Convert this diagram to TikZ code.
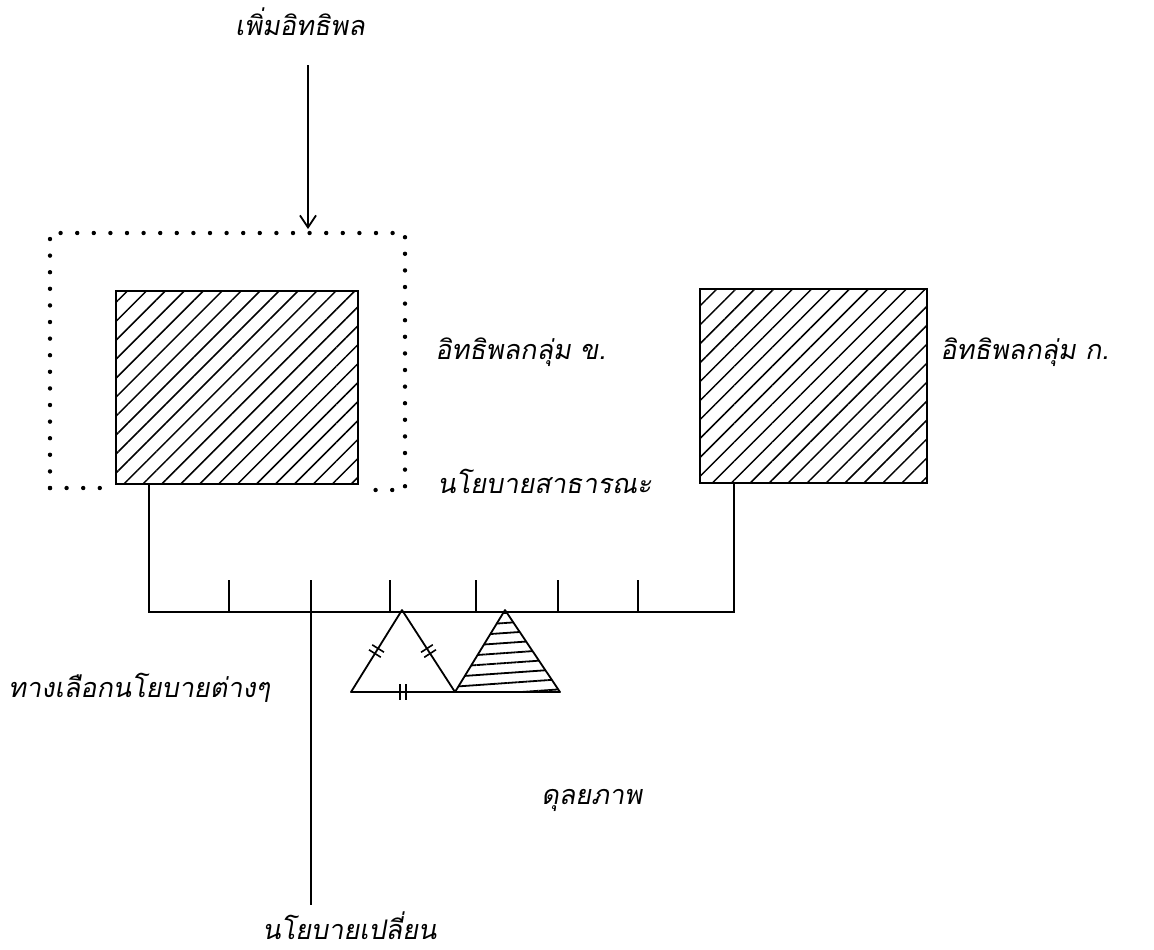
\documentclass[tikz,border=0pt]{standalone}
\usepackage{fontspec}
\usetikzlibrary{patterns.meta,arrows.meta}
\newfontfamily\thaifont[Script=Thai,FakeSlant=0.18]{Loma}
\begin{document}
\begin{tikzpicture}[x=0.5pt,y=-0.5pt,
  lbl/.style={font=\thaifont\fontsize{13.5}{16}\selectfont, inner sep=1pt, anchor=west},
  hatchbox/.style={draw, line width=0.9pt, inner sep=0pt,
     pattern={Lines[angle=45,distance=6.7pt,line width=0.75pt]}},
  conn/.style={line width=0.7pt},
  dotframe/.style={line width=2.2pt, line cap=round, dash pattern=on 0pt off 8.3pt},
  tri/.style={line width=0.9pt, line join=round}]
\useasboundingbox (0,0) rectangle (1154,949);

% boxes
\node[hatchbox, minimum width=121pt, minimum height=96.5pt] (B) at (237,387.5) {};
\node[hatchbox, minimum width=113.5pt, minimum height=97pt] (A) at (813.5,386) {};

% dotted frame
\coordinate (f1) at (50,488);
\coordinate (f2) at (50,233);
\coordinate (f3) at (405,233);
\coordinate (f4) at (405,490);
\coordinate (f5) at (104,488);
\coordinate (f6) at (372,490);
\draw[dotframe] (f1) -- (f2) -- (f3) -- (f4) -- (f6);
\draw[dotframe] (f1) -- (f5);

% labels
\node[lbl, anchor=center] (more) at (300,22) {เพิ่มอิทธิพล};
\node[lbl] (gB) at (433,352) {อิทธิพลกลุ่ม ข.};
\node[lbl] (gA) at (938,352) {อิทธิพลกลุ่ม ก.};
\node[lbl] (pub) at (435,481) {นโยบายสาธารณะ};
\node[lbl] (alt) at (6,688) {ทางเลือกนโยบายต่างๆ};
\node[lbl] (eq) at (539,800) {ดุลยภาพ};
\node[lbl] (chg) at (260,926) {นโยบายเปลี่ยน};

% arrow
\coordinate (arrtop) at (308,65);
\coordinate (arrend) at (308,229);
\draw[conn, -{Straight Barb[length=6pt,width=8pt,line width=0.9pt]}] (arrtop) -- (arrend);

% beam and hangers
\coordinate (bl) at (149,612);
\coordinate (br) at (734,612);
\draw[conn] (B.south west -| bl) -- (bl) -- (br) -- (A.south west -| br);

% ticks
\foreach \t in {229,390,476,558,638}{
  \draw[conn] (\t,580) -- (\t,612);
}
\coordinate (chgtop) at (311,580);
\coordinate (chgbot) at (311,905);
\draw[conn] (chgtop) -- (chgbot);

% triangles
\coordinate (t1a) at (402,610);
\coordinate (t1l) at (351,692);
\coordinate (t1r) at (455,692);
\coordinate (t2a) at (505,610);
\coordinate (t2r) at (560,692);
\draw[tri] (t1a) -- (t1l) -- (t1r) -- cycle;
\draw[tri, pattern={Lines[angle=4,distance=5pt,line width=0.9pt]}] (t2a) -- (t1r) -- (t2r) -- cycle;

% equal-side marks
\draw[conn, line width=0.8pt] (372.2,644.8) -- (384.0,652.2);
\draw[conn, line width=0.8pt] (369.0,649.8) -- (380.8,657.2);
\draw[conn, line width=0.8pt] (421.0,652.3) -- (432.8,644.7);
\draw[conn, line width=0.8pt] (424.2,657.3) -- (436.0,649.7);
\draw[conn, line width=0.8pt] (400,684) -- (400,700);
\draw[conn, line width=0.8pt] (406,684) -- (406,700);
\end{tikzpicture}
\end{document}
